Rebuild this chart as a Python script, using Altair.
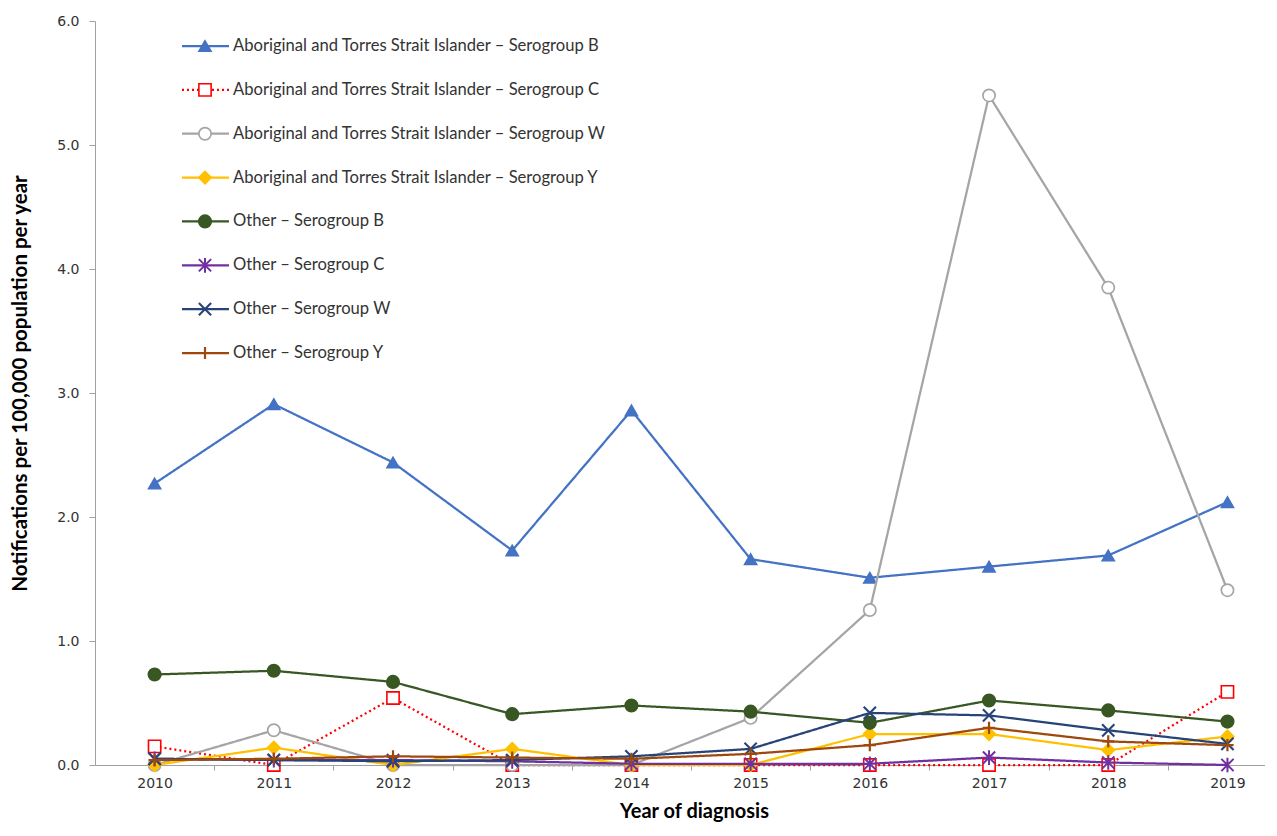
import altair as alt
import pandas as pd

years = [2010, 2011, 2012, 2013, 2014, 2015, 2016, 2017, 2018, 2019]

series_names = [
    "Aboriginal and Torres Strait Islander – Serogroup B",
    "Aboriginal and Torres Strait Islander – Serogroup C",
    "Aboriginal and Torres Strait Islander – Serogroup W",
    "Aboriginal and Torres Strait Islander – Serogroup Y",
    "Other – Serogroup B",
    "Other – Serogroup C",
    "Other – Serogroup W",
    "Other – Serogroup Y",
]

atsi_b = [2.27, 2.91, 2.44, 1.73, 2.86, 1.66, 1.51, 1.60, 1.69, 2.12]
atsi_c = [0.15, 0.0, 0.54, 0.0, 0.0, 0.0, 0.0, 0.0, 0.0, 0.59]
atsi_w = [0.0, 0.28, 0.0, 0.0, 0.0, 0.38, 1.25, 5.40, 3.85, 1.41]
atsi_y = [0.0, 0.14, 0.0, 0.13, 0.0, 0.0, 0.25, 0.25, 0.12, 0.23]
other_b = [0.73, 0.76, 0.67, 0.41, 0.48, 0.43, 0.34, 0.52, 0.44, 0.35]
other_c = [0.05, 0.04, 0.04, 0.03, 0.01, 0.01, 0.01, 0.06, 0.02, 0.0]
other_w = [0.05, 0.04, 0.03, 0.04, 0.07, 0.13, 0.42, 0.40, 0.28, 0.17]
other_y = [0.04, 0.05, 0.07, 0.06, 0.05, 0.09, 0.16, 0.30, 0.19, 0.16]

all_values = [atsi_b, atsi_c, atsi_w, atsi_y, other_b, other_c, other_w, other_y]

line_colors = ["#4472C4", "#FF0000", "#A5A5A5", "#FFC000",
               "#385723", "#7030A0", "#264478", "#9E480E"]
fill_colors = ["#4472C4", "#FFFFFF", "#FFFFFF", "#FFC000",
               "#385723", "transparent", "transparent", "transparent"]
ASTERISK = "M-1,-1L1,1M-1,1L1,-1M0,-1.2L0,1.2"
XMARK = "M-1,-1L1,1M-1,1L1,-1"
PLUS = "M0,-1L0,1M-1,0L1,0"
shapes = ["triangle-up", "square", "circle", "diamond", "circle", ASTERISK, XMARK, PLUS]
sizes = [150, 150, 190, 150, 220, 160, 160, 170]
stroke_widths = [1.5, 2.2, 2.2, 1.5, 1.5, 1.5, 1.5, 1.5]
dashes = [[1, 0], [2, 3], [1, 0], [1, 0], [1, 0], [1, 0], [1, 0], [1, 0]]

rows = []
for name, vals in zip(series_names, all_values):
    for yr, v in zip(years, vals):
        rows.append({"series": name, "year": yr, "value": v})
df = pd.DataFrame(rows)
legend_df = pd.DataFrame({"series": series_names})

W, H = 1170, 744
XMIN, XMAX = 2009.5, 2019.315
STEP = W / (XMAX - XMIN)

color_s = alt.Scale(domain=series_names, range=line_colors)
fill_s = alt.Scale(domain=series_names, range=fill_colors)
shape_s = alt.Scale(domain=series_names, range=shapes)
size_s = alt.Scale(domain=series_names, range=sizes)
sw_s = alt.Scale(domain=series_names, range=stroke_widths)
dash_s = alt.Scale(domain=series_names, range=dashes)

x_enc = alt.X("year:Q", scale=alt.Scale(domain=[XMIN, XMAX], nice=False, zero=False),
              axis=alt.Axis(values=years, format="d", title="Year of diagnosis",
                            tickOffset=STEP / 2, labelOffset=-STEP / 2,
                            tickSize=5, labelPadding=6,
                            titleX=599, titleY=52, titleBaseline="alphabetic",
                            titleFont="Lato", titleFontSize=20, titleFontWeight="bold"))
y_enc = alt.Y("value:Q", scale=alt.Scale(domain=[0, 6], nice=False),
              axis=alt.Axis(values=[0, 1, 2, 3, 4, 5, 6], format=".1f",
                            title="Notifications per 100,000 population per year",
                            tickSize=6, labelPadding=10,
                            titleX=-65, titleY=362, titleAngle=-90,
                            titleAlign="center", titleBaseline="bottom",
                            titleFont="Lato", titleFontSize=20.5, titleFontWeight="bold"))

base = alt.Chart(df)
layers = []
for name in series_names:
    sub = base.transform_filter(alt.datum.series == name)
    layers.append(sub.mark_line(strokeWidth=2.25).encode(
        x=x_enc, y=y_enc,
        color=alt.Color("series:N", scale=color_s, legend=None),
        strokeDash=alt.StrokeDash("series:N", scale=dash_s, legend=None),
    ))
    layers.append(sub.mark_point(opacity=1).encode(
        x=x_enc, y=y_enc,
        stroke=alt.Stroke("series:N", scale=color_s, legend=None),
        fill=alt.Fill("series:N", scale=fill_s, legend=None),
        shape=alt.Shape("series:N", scale=shape_s, legend=None),
        size=alt.Size("series:N", scale=size_s, legend=None),
        strokeWidth=alt.StrokeWidth("series:N", scale=sw_s, legend=None),
    ))
main = alt.layer(*layers)

leg_y = alt.Y("series:N", scale=alt.Scale(type="point", domain=series_names,
                                          range=[25, 332], padding=0), axis=None)
leg = alt.Chart(legend_df)
leg_line = leg.mark_rule(strokeWidth=2.25).encode(
    x=alt.value(87), x2=alt.value(134), y=leg_y,
    color=alt.Color("series:N", scale=color_s, legend=None),
    strokeDash=alt.StrokeDash("series:N", scale=dash_s, legend=None),
)
leg_pt = leg.mark_point(opacity=1).encode(
    x=alt.value(110), y=leg_y,
    stroke=alt.Stroke("series:N", scale=color_s, legend=None),
    fill=alt.Fill("series:N", scale=fill_s, legend=None),
    shape=alt.Shape("series:N", scale=shape_s, legend=None),
    size=alt.Size("series:N", scale=size_s, legend=None),
    strokeWidth=alt.StrokeWidth("series:N", scale=sw_s, legend=None),
)
leg_txt = leg.mark_text(align="left", baseline="middle", font="Lato", fontSize=16.6,
                        color="#333333").encode(
    x=alt.value(138), y=leg_y, text="series:N")
legend = alt.layer(leg_line, leg_pt, leg_txt)

chart = alt.layer(main, legend).resolve_scale(y="independent").properties(
    width=W, height=H,
    autosize=alt.AutoSizeParams(type="none"),
    padding={"left": 87, "top": 13, "right": 0, "bottom": 60},
).configure_view(stroke=None).configure_axis(
    grid=False, domainColor="#A0A0A0", tickColor="#A0A0A0",
    labelFont="DejaVu Sans", labelFontSize=14, labelColor="#333333",
    titleColor="#000000",
)

chart.save("out.html", embed_options={"renderer": "svg", "actions": False})
